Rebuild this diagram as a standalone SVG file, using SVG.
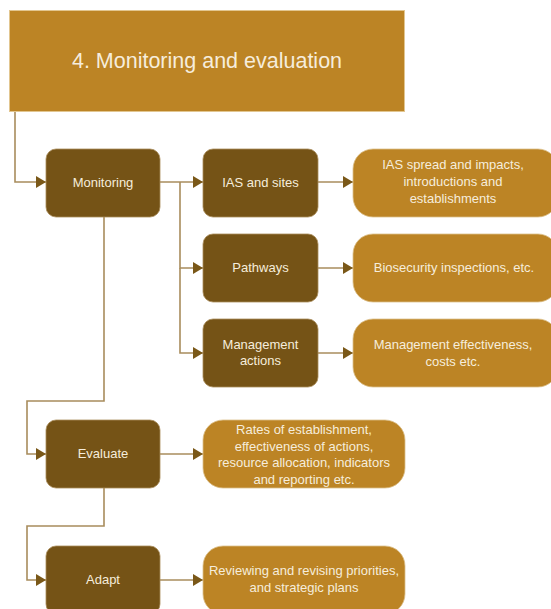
<svg xmlns="http://www.w3.org/2000/svg" width="551" height="609" viewBox="0 0 551 609">
  <defs>
    <marker id="arrow" markerUnits="userSpaceOnUse" markerWidth="10" markerHeight="12" refX="10" refY="6" orient="auto">
      <path d="M0,0 L10,6 L0,12 Z" fill="#7a5818"/>
    </marker>
    <style>
      .title { fill: #bc8425; stroke: #e2c690; stroke-width: 1; }
      .dark { fill: #755316; stroke: #a98d5c; stroke-width: 0.8; }
      .light { fill: #bc8425; stroke: #dcc08c; stroke-width: 0.8; }
      .link { fill: none; stroke: #a88c5c; stroke-width: 1.6; }
      text { font-family: "Liberation Sans", Arial, sans-serif; fill: #f6eddc; text-anchor: middle; }
      .t1 { font-size: 21.5px; }
      .t2 { font-size: 13px; }
    </style>
  </defs>

  <g id="connectors">
    <path class="link" d="M15,112 V182 H46" marker-end="url(#arrow)"/>
    <path class="link" d="M160,182 H203" marker-end="url(#arrow)"/>
    <path class="link" d="M180,182 V268 H203" marker-end="url(#arrow)"/>
    <path class="link" d="M180,268 V353 H203" marker-end="url(#arrow)"/>
    <path class="link" d="M318,182 H353" marker-end="url(#arrow)"/>
    <path class="link" d="M318,268 H353" marker-end="url(#arrow)"/>
    <path class="link" d="M318,353 H353" marker-end="url(#arrow)"/>
    <path class="link" d="M104,217 V401 H27 V454 H46" marker-end="url(#arrow)"/>
    <path class="link" d="M160,454 H203" marker-end="url(#arrow)"/>
    <path class="link" d="M104,488 V526 H27 V580 H46" marker-end="url(#arrow)"/>
    <path class="link" d="M160,580 H203" marker-end="url(#arrow)"/>
  </g>

  <g id="title">
    <rect class="title" x="9.5" y="10.5" width="395" height="101"/>
    <text class="t1" x="207" y="68">4. Monitoring and evaluation</text>
  </g>

  <g id="monitoring">
    <rect class="dark" x="46" y="149" width="114" height="68" rx="10"/>
    <text class="t2" x="103" y="187">Monitoring</text>
  </g>
  <g id="ias-sites">
    <rect class="dark" x="203" y="149" width="115" height="68" rx="10"/>
    <text class="t2" x="260.5" y="187">IAS and sites</text>
  </g>
  <g id="pathways">
    <rect class="dark" x="203" y="234" width="115" height="68" rx="10"/>
    <text class="t2" x="260.5" y="272">Pathways</text>
  </g>
  <g id="management-actions">
    <rect class="dark" x="203" y="319" width="115" height="68" rx="10"/>
    <text class="t2" x="260.5" y="349">Management</text>
    <text class="t2" x="260.5" y="365">actions</text>
  </g>

  <g id="ias-spread">
    <rect class="light" x="353" y="149" width="205" height="68" rx="20"/>
    <text class="t2" x="453" y="169">IAS spread and impacts,</text>
    <text class="t2" x="453" y="186">introductions and</text>
    <text class="t2" x="453" y="203">establishments</text>
  </g>
  <g id="biosecurity">
    <rect class="light" x="353" y="234" width="205" height="68" rx="20"/>
    <text class="t2" x="454" y="272">Biosecurity inspections, etc.</text>
  </g>
  <g id="management-effectiveness">
    <rect class="light" x="353" y="319" width="205" height="68" rx="20"/>
    <text class="t2" x="453" y="349">Management effectiveness,</text>
    <text class="t2" x="453" y="366">costs etc.</text>
  </g>

  <g id="evaluate">
    <rect class="dark" x="46" y="420" width="114" height="68" rx="10"/>
    <text class="t2" x="103" y="458">Evaluate</text>
  </g>
  <g id="evaluate-detail">
    <rect class="light" x="203" y="420" width="202" height="68" rx="20"/>
    <text class="t2" x="304" y="434">Rates of establishment,</text>
    <text class="t2" x="304" y="451">effectiveness of actions,</text>
    <text class="t2" x="304" y="467">resource allocation, indicators</text>
    <text class="t2" x="304" y="484">and reporting etc.</text>
  </g>

  <g id="adapt">
    <rect class="dark" x="46" y="546" width="114" height="68" rx="10"/>
    <text class="t2" x="103" y="584">Adapt</text>
  </g>
  <g id="adapt-detail">
    <rect class="light" x="203" y="546" width="202" height="68" rx="20"/>
    <text class="t2" x="304" y="575">Reviewing and revising priorities,</text>
    <text class="t2" x="304" y="592">and strategic plans</text>
  </g>
</svg>
